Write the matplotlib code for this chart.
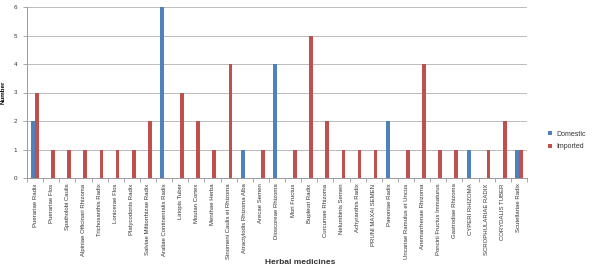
import matplotlib
matplotlib.use("Agg")
import matplotlib.pyplot as plt
import numpy as np

categories = ["Puerariae Radix", "Puerariae Flos", "Spatholobi Caulis", "Alpiniae Officinari Rhizoma",
              "Trichosanthis Radix", "Lonicerae Flos", "Platycodonis Radix", "Salviae Miltiorrhizae Radix",
              "Araliae Continentalis Radix", "Liriopis Tuber", "Moutan Cortex", "Menthae Herba",
              "Sinomeni Caulis et Rhizoma", "Atractylodis Rhizoma Alba", "Arecae Semen", "Dioscoreae Rhizoma",
              "Mori Fructus", "Bupleuri Radix", "Curcumae Rhizoma", "Nelumbinis Semen", "Achyranthis Radix",
              "PRUNI MAXAI SEMEN", "Paeoniae Radix", "Uncariae Ramulus et Uncus", "Anemarrhenae Rhizoma",
              "Poncirii Fructus Immaturus", "Gastrodiae Rhizoma", "CYPERI RHIZOMA", "SCROPHULARIAE RADIX",
              "CORYDALIS TUBER", "Scutellariae Radix"]
domestic = [2, 0, 0, 0, 0, 0, 0, 0, 6, 0, 0, 0, 0, 1, 0, 4, 0, 0, 0, 0, 0, 0, 2, 0, 0, 0, 0, 1, 0, 0, 1]
imported = [3, 1, 1, 1, 1, 1, 1, 2, 0, 3, 2, 1, 4, 0, 1, 0, 1, 5, 2, 1, 1, 1, 0, 1, 4, 1, 1, 0, 1, 2, 1]
yticks = [0, 1, 2, 3, 4, 5, 6]

plt.rcParams['font.family'] = ['Liberation Sans Narrow', 'Liberation Sans', 'DejaVu Sans']

fig = plt.figure(figsize=(5.95, 2.67), dpi=100)
ax = fig.add_axes([27/595, 1-178/267, (527-27)/595, (178-7)/267])

x = np.arange(len(categories))
w = 0.23
ax.bar(x - w/2, domestic, w, color='#4F81BD', label='Domestic', zorder=3)
ax.bar(x + w/2, imported, w, color='#C0504D', label='Imported', zorder=3)

ax.set_xlim(-0.5, len(categories) - 0.5)
ax.set_ylim(0, 6)
ax.set_yticks(yticks)
ax.set_yticklabels([str(v) for v in yticks], fontsize=4.5, color='#333333')
ax.yaxis.grid(True, color='#BBBBBB', linewidth=0.7, zorder=0)
ax.set_xticks(x)
ax.set_xticklabels(categories, rotation=90, fontsize=4.3, color='#333333')
ax.set_xticks(np.arange(-0.5, len(categories)), minor=True)
ax.tick_params(axis='x', which='major', length=0, pad=4)
ax.tick_params(axis='x', which='minor', length=3, color='#999999', width=0.6)
ax.tick_params(axis='y', length=3, color='#999999', width=0.6, pad=4)
for s in ['top', 'right']:
    ax.spines[s].set_visible(False)
ax.spines['left'].set_color('#999999')
ax.spines['bottom'].set_color('#999999')
ax.spines['left'].set_linewidth(0.7)
ax.spines['bottom'].set_linewidth(0.7)

ax.set_ylabel('Number', fontsize=4.5, fontweight='bold', labelpad=6)

fig.text(300/595, 1-262/267, 'Herbal medicines', fontsize=6, fontweight='bold', ha='center', va='center', color='#333333')

leg = ax.legend(loc='center left', bbox_to_anchor=(1.03, 0.22), frameon=False, fontsize=5,
                handlelength=0.6, handleheight=0.6, handletextpad=0.5, labelspacing=0.8)
for t in leg.get_texts():
    t.set_color('#333333')

fig.savefig('out.png', dpi=100)
